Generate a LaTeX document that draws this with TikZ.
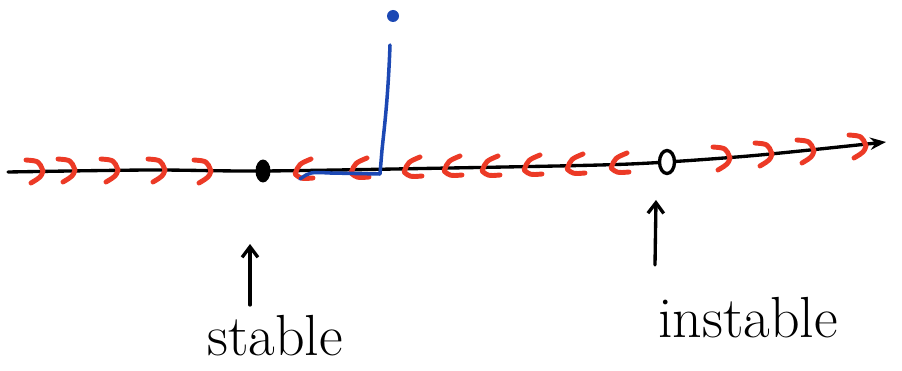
\documentclass[tikz,border=0pt]{standalone}
\usetikzlibrary{arrows.meta,shapes.geometric}
\definecolor{flowred}{RGB}{236,58,38}
\definecolor{penblue}{RGB}{28,72,180}
\tikzset{
  chev/.style={flowred, line width=2.8pt, line cap=round, line join=round},
  pen/.style={black, line width=1.9pt, line cap=round},
  hand/.style={font=\fontsize{33}{38}\selectfont, inner sep=0pt},
  right chev/.pic={\draw[chev] (-9,-11) .. controls (4,-10) .. (8,0) .. controls (6,6) .. (-4,12);},
  left chev/.pic={\draw[chev] (8,-12) .. controls (-4,-7) .. (-8,3) .. controls (-2,8) .. (10,7);}
}
\begin{document}
\begin{tikzpicture}[x=0.02cm, y=-0.02cm]
    \useasboundingbox (0,0) rectangle (902,371);

    % axe des x
    \coordinate (start) at (8,172);
    \coordinate (tip) at (886,142);
    \draw[pen, -{Stealth[length=9pt, width=7pt, open]}] plot[smooth] coordinates
        {(start) (150,170) (263,171) (450,168) (600,165) (667,162) (760,155) (tip)};

    % fleches rouges
    \foreach \x/\y in {35/171, 67/170, 110/170, 157/170, 203/171}
        \pic at (\x,\y) {right chev};
    \foreach \x/\y in {303/171, 359/170, 412/169, 452/168, 490/168, 532/167, 575/166, 619/165}
        \pic at (\x,\y) {left chev};
    \foreach \x/\y in {722/158, 764/154, 806/151, 858/146}
        \pic at (\x,\y) {right chev};

    % points d'equilibre
    \node[fill, ellipse, inner sep=0pt, minimum height=0.46cm, minimum width=0.3cm] (st) at (263,171) {};
    \node[draw, pen, fill=white, ellipse, inner sep=0pt, minimum height=0.46cm, minimum width=0.3cm] (unst) at (667,162) {};

    % trajectoire
    \coordinate (x0) at (393,16);
    \fill[penblue] (x0) circle (6);
    \draw[penblue, line width=2pt, line cap=round, line join=round]
        (390,45) .. controls (388,100) and (384,130) .. (382,150) -- (380,174)
        -- (330,173) .. controls (310,172) .. (300,179);

    % etiquettes
    \node[hand] (stab) at (275,336) {stable};
    \node[hand] (instab) at (748,318) {instable};
    \coordinate (stabtip) at (250,244);
    \coordinate (instabtip) at (656,200);
    \draw[pen, -{Straight Barb[length=6pt, width=9pt]}] (250,305) -- (stabtip);
    \draw[pen, -{Straight Barb[length=6pt, width=9pt]}] (655,265) -- (instabtip);
\end{tikzpicture}
\end{document}
